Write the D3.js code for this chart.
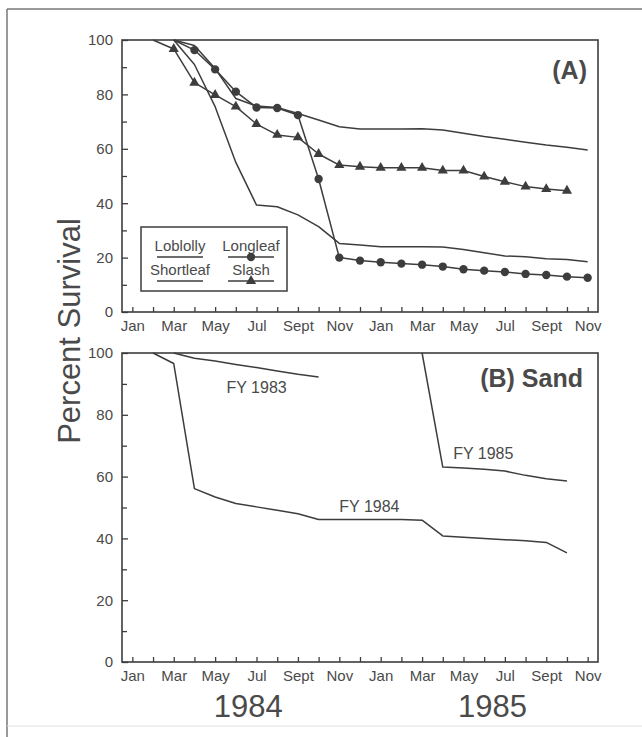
<!DOCTYPE html>
<html>
<head>
<meta charset="utf-8">
<script src="https://cdn.jsdelivr.net/npm/d3@7"></script>
<style>
  body { margin: 0; background: #fff; }
  svg { display: block; font-family: "Liberation Sans", Arial, Helvetica, sans-serif; }
</style>
</head>
<body>
<div id="chart"></div>
<script>
// month index 0 = Jan 1984 ... 22 = Nov 1985
var monthLabels = ['Jan','Mar','May','Jul','Sept','Nov','Jan','Mar','May','Jul','Sept','Nov'];
var yearLabels = ['1984','1985'];
var yTicks = [0,20,40,60,80,100];
var yMinorTicks = [10,30,50,70,90];

// panel A, species
var loblollyMonths = [2,3,4,5,6,7,8,9,10,11,12,13,14,15,16,17,18,19,20,21,22];
var loblolly = [100,98,89.5,78.5,75.7,75.2,73,70.6,68.1,67.3,67.3,67.3,67.4,66.9,65.7,64.5,63.5,62.4,61.4,60.6,59.6];
var longleafMonths = [2,3,4,5,6,7,8,9,10,11,12,13,14,15,16,17,18,19,20,21,22];
var longleaf = [100,96.3,89.2,81,75.2,75,72.4,48.9,20,18.9,18.3,17.8,17.4,16.7,15.7,15.2,14.7,14,13.6,13,12.6];
var shortleafMonths = [2,3,4,5,6,7,8,9,10,11,12,13,14,15,16,17,18,19,20,21,22];
var shortleaf = [100,91,75.5,55,39.3,38.7,35.7,31.4,25.2,24.6,24,24,24,23.9,23,21.8,20.6,20.3,19.6,19.3,18.5];
var slashMonths = [1,2,3,4,5,6,7,8,9,10,11,12,13,14,15,16,17,18,19,20,21];
var slash = [100,96.7,84.3,79.8,75.5,69.1,65.1,64.2,58.1,54,53.4,53,53,53,52,52,49.8,47.9,46.1,45.2,44.6];

// panel B, sand, by planting year
var fy1983Months = [2,3,4,5,6,7,8,9];
var fy1983 = [100,98.3,97.4,96.3,95.3,94.2,93.1,92.2];
var fy1984Months = [1,2,3,4,5,6,7,8,9,10,11,12,13,14,15,16,17,18,19,20,21];
var fy1984 = [100,96.6,56.1,53.4,51.3,50.2,49.1,48,46.1,46.1,46.1,46.1,46.1,45.9,40.8,40.4,40,39.6,39.2,38.7,35.3];
var fy1985Months = [14,15,16,17,18,19,20,21];
var fy1985 = [100,63.1,62.8,62.4,61.8,60.4,59.3,58.6];

var W = 642, H = 737;
var ink = '#3d3d3d', txt = '#4a4a4a';
var left = 122, right = 598;

var svg = d3.select('#chart').append('svg').attr('width', W).attr('height', H);

// outer figure frame
svg.append('line').attr('x1', 7).attr('x2', 7).attr('y1', 9).attr('y2', H).attr('stroke', '#777').attr('stroke-width', 1.5);
svg.append('line').attr('x1', 7).attr('x2', W).attr('y1', 9).attr('y2', 9).attr('stroke', '#777').attr('stroke-width', 1.5);
svg.append('line').attr('x1', 7).attr('x2', W).attr('y1', 726).attr('y2', 726).attr('stroke', '#e2e2e2').attr('stroke-width', 1);

var x = d3.scaleLinear().domain([-0.5, 22.5]).range([left, right]);

function zip(ms, vs) {
    return ms.map(function(m, i){ return {m: m, v: vs[i]}; });
}

function panel(top, bottom) {
    var y = d3.scaleLinear().domain([0, 100]).range([bottom, top]);
    var g = svg.append('g');

    g.append('g').attr('transform', 'translate(' + left + ',0)')
        .call(d3.axisLeft(y).tickValues(yTicks).tickSizeInner(-6).tickSizeOuter(0).tickPadding(9));
    g.append('g').attr('transform', 'translate(' + left + ',0)')
        .call(d3.axisLeft(y).tickValues(yMinorTicks).tickFormat('').tickSizeInner(-5).tickSizeOuter(0));

    g.append('g').attr('transform', 'translate(0,' + bottom + ')')
        .call(d3.axisBottom(x).tickValues(d3.range(0, 23)).tickSizeInner(-5).tickSizeOuter(0).tickPadding(8)
            .tickFormat(function(d){ return d % 2 === 0 ? monthLabels[d / 2] : ''; }));

    g.selectAll('.domain').remove();
    g.selectAll('.tick line').attr('stroke', ink).attr('stroke-width', 1.3);
    g.selectAll('.tick text').attr('fill', txt).style('font-size', '15px');

    g.append('rect').attr('x', left).attr('y', top).attr('width', right - left).attr('height', bottom - top)
        .attr('fill', 'none').attr('stroke', ink).attr('stroke-width', 1.6);
    return {g: g, y: y};
}

function drawLine(p, ms, vs, marker) {
    var data = zip(ms, vs);
    var line = d3.line().x(function(d){ return x(d.m); }).y(function(d){ return p.y(d.v); });
    p.g.append('path').datum(data).attr('d', line)
        .attr('fill', 'none').attr('stroke', ink).attr('stroke-width', 1.5).attr('stroke-linejoin', 'round');
    if (marker) {
        // the 100% start points sit on the frame and are not marked
        p.g.selectAll(null).data(data.filter(function(d){ return d.v < 100; })).enter().append('path')
            .attr('transform', function(d){ return 'translate(' + x(d.m) + ',' + p.y(d.v) + ')'; })
            .attr('d', d3.symbol().type(marker).size(marker === d3.symbolCircle ? 55 : 45))
            .attr('fill', ink);
    }
}

// ---- panel A
var pA = panel(40, 312);
drawLine(pA, loblollyMonths, loblolly);
drawLine(pA, shortleafMonths, shortleaf);
drawLine(pA, slashMonths, slash, d3.symbolTriangle);
drawLine(pA, longleafMonths, longleaf, d3.symbolCircle);

pA.g.append('text').attr('x', 587).attr('y', 79).attr('text-anchor', 'end')
    .attr('fill', txt).style('font-size', '25px').style('font-weight', 'bold').text('(A)');

// legend
var lg = pA.g.append('g');
lg.append('rect').attr('x', 141).attr('y', 227).attr('width', 146).attr('height', 64)
    .attr('fill', '#fff').attr('stroke', ink).attr('stroke-width', 1.5);
var legendItems = [
    {name: 'Loblolly', cx: 180, row: 0, marker: null},
    {name: 'Longleaf', cx: 251, row: 0, marker: d3.symbolCircle},
    {name: 'Shortleaf', cx: 180, row: 1, marker: null},
    {name: 'Slash', cx: 251, row: 1, marker: d3.symbolTriangle}
];
legendItems.forEach(function(it){
    var by = 251 + it.row * 24;
    lg.append('text').attr('x', it.cx).attr('y', by).attr('text-anchor', 'middle')
        .attr('fill', txt).style('font-size', '15px').text(it.name);
    lg.append('line').attr('x1', it.cx - 23).attr('x2', it.cx + 23).attr('y1', by + 6).attr('y2', by + 6)
        .attr('stroke', ink).attr('stroke-width', 1.5);
    if (it.marker) {
        lg.append('path').attr('transform', 'translate(' + it.cx + ',' + (by + 6) + ')')
            .attr('d', d3.symbol().type(it.marker).size(it.marker === d3.symbolCircle ? 55 : 45)).attr('fill', ink);
    }
});

// ---- panel B
var pB = panel(353, 662);
drawLine(pB, fy1983Months, fy1983);
drawLine(pB, fy1984Months, fy1984);
drawLine(pB, fy1985Months, fy1985);

pB.g.append('text').attr('x', 583).attr('y', 387).attr('text-anchor', 'end')
    .attr('fill', txt).style('font-size', '25px').style('font-weight', 'bold').text('(B) Sand');

var fyLabels = [
    {t: 'FY 1983', m: 4.55, v: 87.1},
    {t: 'FY 1984', m: 10.0, v: 48.5},
    {t: 'FY 1985', m: 15.5, v: 65.8}
];
pB.g.selectAll('.fy').data(fyLabels).enter().append('text')
    .attr('x', function(d){ return x(d.m); }).attr('y', function(d){ return pB.y(d.v); })
    .attr('fill', txt).style('font-size', '16px').text(function(d){ return d.t; });

// axis titles
svg.append('text').attr('transform', 'translate(80,331) rotate(-90)').attr('text-anchor', 'middle')
    .attr('fill', txt).style('font-size', '31px').text('Percent Survival');

svg.selectAll('.yr').data(yearLabels).enter().append('text')
    .attr('x', function(d, i){ return x(i === 0 ? 5.6 : 17.4); }).attr('y', 717)
    .attr('text-anchor', 'middle').attr('fill', txt).style('font-size', '31px')
    .text(function(d){ return d; });
</script>
</body>
</html>
